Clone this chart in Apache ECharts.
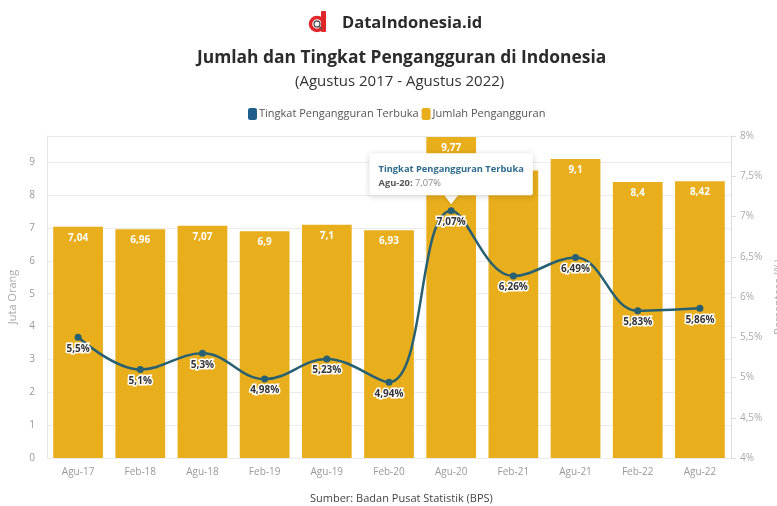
<!DOCTYPE html>
<html>
<head>
<meta charset="utf-8">
<script src="https://cdn.jsdelivr.net/npm/echarts@6/dist/echarts.min.js"></script>
<style>
  html, body { margin: 0; padding: 0; background: #fff; }
  #chart { width: 777px; height: 506px; }
</style>
</head>
<body>
<div id="chart"></div>
<script>
// Periods (semester surveys) from August 2017 to August 2022
const periods = ['Agu-17', 'Feb-18', 'Agu-18', 'Feb-19', 'Agu-19', 'Feb-20', 'Agu-20', 'Feb-21', 'Agu-21', 'Feb-22', 'Agu-22'];
// Number of unemployed people, millions
const unemployedMillions = [7.04, 6.96, 7.07, 6.9, 7.1, 6.93, 9.77, 8.75, 9.1, 8.4, 8.42];
// Open unemployment rate, percent
const unemploymentRate = [5.5, 5.1, 5.3, 4.98, 5.23, 4.94, 7.07, 6.26, 6.49, 5.83, 5.86];
// Period highlighted with a callout
const highlightPeriod = 'Agu-20';

const FONT = '"Open Sans", "Noto Sans", sans-serif';
const BAR_COLOR = '#E9AE1C';
const LINE_COLOR = '#275F73';
const LEGEND_LINE_COLOR = '#1F5F8C';

const comma = v => String(v).replace('.', ',');
const hiIdx = periods.indexOf(highlightPeriod);

const chart = echarts.init(document.getElementById('chart'), null, { renderer: 'canvas' });

chart.setOption({
  animation: false,
  textStyle: { fontFamily: FONT },
  title: [
    {
      text: 'DataIndonesia.id',
      left: 337, top: 10,
      textStyle: { fontFamily: FONT, fontSize: 16.5, fontWeight: 'bold', color: '#2b2b2b' }
    },
    {
      text: 'Jumlah dan Tingkat Pengangguran di Indonesia',
      left: 192, top: 45,
      textStyle: { fontFamily: FONT, fontSize: 17.4, fontWeight: 'bold', color: '#2b2b2b' }
    },
    {
      text: '(Agustus 2017 - Agustus 2022)',
      left: 290, top: 69,
      textStyle: { fontFamily: FONT, fontSize: 15, fontWeight: 'normal', color: '#333' }
    },
    {
      text: 'Sumber: Badan Pusat Statistik (BPS)',
      left: 305, top: 488,
      textStyle: { fontFamily: FONT, fontSize: 11, fontWeight: 'normal', color: '#444' }
    }
  ],
  graphic: [
    {
      // brand mark
      type: 'group', left: 308, top: 11,
      children: [
        { type: 'rect', shape: { x: 12, y: 0, width: 5, height: 21, r: 1 }, style: { fill: '#E0262A' } },
        { type: 'circle', shape: { cx: 8, cy: 13, r: 6.5 }, style: { fill: 'none', stroke: '#E0262A', lineWidth: 3.5 } },
        { type: 'circle', shape: { cx: 8, cy: 13, r: 3 }, style: { fill: '#fff', stroke: '#555', lineWidth: 1.3 } },
        { type: 'line', shape: { x1: 10, y1: 15, x2: 13, y2: 18 }, style: { stroke: '#555', lineWidth: 1.5 } }
      ]
    }
  ],
  legend: {
    top: 103, left: 243,
    itemWidth: 9, itemHeight: 12, itemGap: 3,
    textStyle: { fontFamily: FONT, fontSize: 11, color: '#555', padding: [0, 0, 0, -3] },
    data: [
      { name: 'Tingkat Pengangguran Terbuka', icon: 'roundRect', itemStyle: { color: LEGEND_LINE_COLOR } },
      { name: 'Jumlah Pengangguran', icon: 'roundRect', itemStyle: { color: BAR_COLOR } }
    ]
  },
  grid: { left: 47, right: 46, top: 136, bottom: 48, containLabel: false, outerBoundsMode: 'none' },
  xAxis: {
    type: 'category',
    data: periods,
    axisLine: { show: false },
    axisTick: { show: false },
    axisLabel: { color: '#999', fontSize: 10, fontFamily: FONT, margin: 9 }
  },
  yAxis: [
    {
      type: 'value', min: 0, max: 9.8, interval: 1,
      name: 'Juta Orang', nameLocation: 'middle', nameGap: 16,
      nameTextStyle: { color: '#aaa', fontSize: 11, fontFamily: FONT },
      axisLine: { show: true, lineStyle: { color: '#e6e6e6' } },
      axisTick: { show: false },
      axisLabel: { color: '#999', fontSize: 10, fontFamily: FONT, margin: 12, showMaxLabel: false },
      splitLine: { lineStyle: { color: '#ececec' } }
    },
    {
      type: 'value', min: 4, max: 8, interval: 0.5,
      name: 'Persentase (%)', nameLocation: 'middle', nameGap: 38,
      nameTextStyle: { color: '#aaa', fontSize: 11, fontFamily: FONT },
      axisLine: { show: true, lineStyle: { color: '#dcdcdc' } },
      axisTick: { show: true, length: 5, lineStyle: { color: '#dcdcdc' } },
      axisLabel: { color: '#aaa', fontSize: 10, fontFamily: FONT, margin: 9, formatter: v => comma(v) + '%' },
      splitLine: { show: false }
    }
  ],
  series: [
    {
      name: 'Jumlah Pengangguran',
      type: 'bar',
      yAxisIndex: 0,
      data: unemployedMillions,
      barWidth: '80%',
      itemStyle: { color: BAR_COLOR },
      label: {
        show: true, position: 'insideTop', distance: 6,
        color: '#fff', fontSize: 10, fontWeight: 'bold', fontFamily: FONT,
        formatter: p => comma(p.value)
      },
      z: 1
    },
    {
      name: 'Tingkat Pengangguran Terbuka',
      type: 'line',
      yAxisIndex: 1,
      data: unemploymentRate,
      smooth: 0.4,
      symbol: 'circle', symbolSize: 7,
      lineStyle: { color: LINE_COLOR, width: 2.5 },
      itemStyle: { color: LINE_COLOR },
      label: {
        show: true, position: 'bottom', distance: 3,
        color: '#333', fontSize: 10, fontWeight: 'bold', fontFamily: FONT,
        textBorderColor: '#fff', textBorderWidth: 3,
        formatter: p => comma(p.value) + '%'
      },
      markPoint: {
        symbol: 'triangle', symbolRotate: 180, symbolSize: [14, 9], symbolOffset: [0, -11],
        itemStyle: { color: '#fff', shadowColor: 'rgba(0,0,0,0.12)', shadowBlur: 3, shadowOffsetY: 1 },
        z: 20,
        data: [{
          coord: [highlightPeriod, unemploymentRate[hiIdx]],
          label: {
            show: true, position: 'top', distance: 0,
            align: 'center',
            backgroundColor: '#fff', borderRadius: 2, padding: [8, 9, 5, 9],
            shadowColor: 'rgba(0,0,0,0.18)', shadowBlur: 6, shadowOffsetY: 1,
            formatter: '{t|Tingkat Pengangguran Terbuka}\n{k|' + highlightPeriod + ': }{v|' + comma(unemploymentRate[hiIdx]) + '%}',
            rich: {
              t: { color: '#2E6B8C', fontWeight: 'bold', fontSize: 9.3, fontFamily: FONT, lineHeight: 15, align: 'left' },
              k: { color: '#555', fontWeight: 'bold', fontSize: 9.3, fontFamily: FONT, lineHeight: 14, align: 'left' },
              v: { color: '#888', fontSize: 9.3, fontFamily: FONT, lineHeight: 14, align: 'left' }
            }
          }
        }]
      },
      z: 5
    }
  ]
});
</script>
</body>
</html>
